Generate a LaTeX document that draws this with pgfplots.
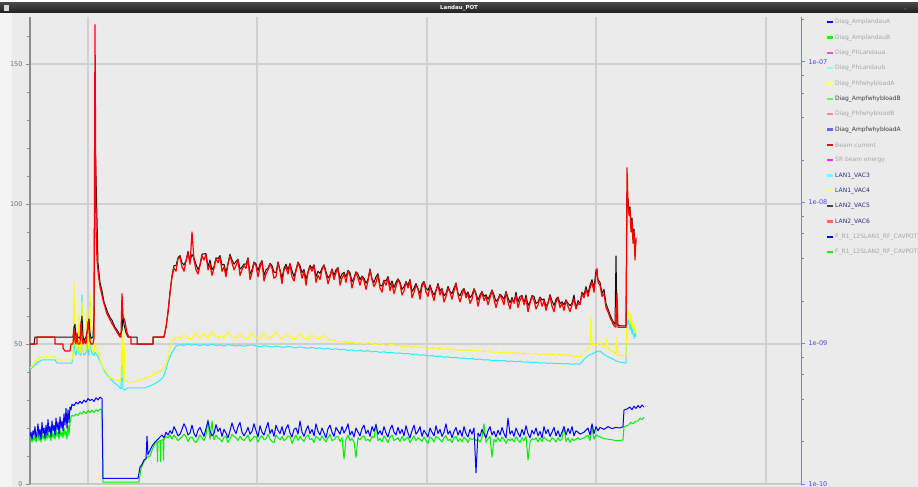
\documentclass[border=0pt]{standalone}
\usepackage{pgfplots}
\pgfplotsset{compat=1.18}
\usepackage{pgfplotstable}
\usepackage{fontspec}
\setmainfont{DejaVu Sans}
\definecolor{bg}{HTML}{EBEBEB}
\definecolor{strip}{HTML}{F4F4F4}
\definecolor{gridc}{HTML}{D0D0D0}
\definecolor{laxis}{HTML}{8C8C8C}
\definecolor{baxis}{HTML}{C6C6C6}
\definecolor{ticklab}{HTML}{6E6E6E}
\definecolor{raxis}{HTML}{7878FF}
\definecolor{rlab}{HTML}{4646F0}
\definecolor{cred}{HTML}{FF0000}
\definecolor{cblk}{HTML}{111111}
\definecolor{cyel}{HTML}{FFFF00}
\definecolor{ccya}{HTML}{22F0FF}
\definecolor{cblu}{HTML}{0000FF}
\definecolor{cgrn}{HTML}{00F000}
\definecolor{lgray}{HTML}{A6A6A6}
\definecolor{ldark}{HTML}{3A3A3A}
\definecolor{lnavy}{HTML}{2C2C7C}
\definecolor{m1}{HTML}{0000FF}
\definecolor{m2}{HTML}{22EE22}
\definecolor{m3}{HTML}{FF44FF}
\definecolor{m4}{HTML}{88FFFF}
\definecolor{m5}{HTML}{FFFF77}
\definecolor{m6}{HTML}{55FF55}
\definecolor{m7}{HTML}{FF8888}
\definecolor{m8}{HTML}{6666FF}
\definecolor{m9}{HTML}{FF0000}
\definecolor{m10}{HTML}{FF22FF}
\definecolor{m11}{HTML}{66FFFF}
\definecolor{m12}{HTML}{FFFF55}
\definecolor{m13}{HTML}{444444}
\definecolor{m14}{HTML}{FF6666}
\definecolor{m15}{HTML}{0000FF}
\definecolor{m16}{HTML}{00FF00}
% noisy middle part: LAN2_VAC6 (red), LAN2_VAC5 (black), blue, green
\pgfplotstableread{
x red blk blu grn
172 74.0 74.5 18.0 16.0
174 77.0 78.0 20.5 17.5
176 76.0 78.0 19.0 16.5
178 80.5 80.8 17.2 15.5
180 81.0 81.6 17.8 16.2
182 77.5 79.0 19.5 16.8
184 76.0 78.2 21.5 17.8
186 79.5 79.8 20.0 17.0
188 82.5 83.1 17.5 15.2
190 78.5 79.5 18.2 16.5
192 90.0 82.0 21.0 16.8
194 80.0 80.6 18.0 15.5
196 76.5 78.5 16.8 14.8
198 75.0 76.5 19.2 16.0
200 78.0 78.3 20.2 17.5
202 81.5 82.1 18.5 16.5
204 80.0 82.2 17.0 15.5
206 82.0 82.3 19.8 17.2
208 76.5 77.5 22.5 23.0
210 78.5 80.0 19.0 16.0
212 74.5 76.5 17.2 22.5
214 77.0 77.6 18.0 15.8
216 80.5 80.8 21.2 17.5
218 79.0 80.5 18.8 16.5
220 81.0 81.6 20.0 16.0
222 76.0 78.2 17.0 15.0
224 77.5 78.5 19.5 16.8
226 74.0 75.5 18.2 17.0
228 78.5 78.8 16.5 14.8
230 81.5 82.1 19.0 16.2
232 79.0 80.0 21.8 17.8
234 76.5 78.5 19.5 17.0
236 78.0 79.5 18.0 16.5
238 80.0 80.3 20.5 15.5
240 74.5 76.7 22.0 17.0
242 76.5 77.5 18.5 16.0
244 78.0 78.6 17.2 15.5
246 77.0 78.5 18.5 16.5
248 80.5 80.8 20.2 17.5
250 73.0 75.0 17.8 15.2
252 75.5 76.5 18.8 16.0
254 79.0 79.3 21.5 17.0
256 78.0 78.6 19.0 16.8
258 74.0 76.2 16.8 15.0
260 77.5 78.5 20.8 16.5
262 79.5 79.8 18.5 17.2
264 72.5 74.5 17.5 15.8
266 75.0 76.5 19.8 16.2
268 76.5 77.1 22.0 17.8
270 78.5 78.8 18.0 16.0
272 77.0 78.0 19.5 15.2
274 73.5 75.7 17.0 14.8
276 74.0 75.5 21.0 17.5
278 79.0 79.3 19.2 16.5
280 76.0 76.6 18.0 15.8
282 71.5 73.5 20.5 17.0
284 76.5 77.1 17.5 15.5
286 77.5 78.5 19.8 16.0
288 75.0 76.5 21.2 17.2
290 78.5 78.8 18.2 16.8
292 74.0 76.2 16.8 14.5
294 72.5 74.0 19.5 16.2
296 76.0 76.6 20.0 17.5
298 79.0 79.3 17.8 15.5
300 77.0 78.0 22.5 17.0
302 73.5 75.5 18.5 16.0
304 76.0 76.6 17.0 15.2
306 71.0 73.2 19.2 16.8
308 75.5 75.8 20.8 17.5
310 77.5 78.1 18.0 15.8
312 76.0 77.0 19.5 16.2
314 78.0 78.3 17.2 14.8
316 72.0 74.0 21.5 17.0
318 74.5 76.0 18.8 16.5
320 73.0 75.2 17.5 15.5
322 76.5 77.1 20.0 17.2
324 78.0 78.3 18.2 16.0
326 75.0 76.0 16.5 15.0
328 71.5 73.5 19.8 16.5
330 74.0 74.6 21.0 17.8
332 76.5 76.8 18.5 15.5
334 73.0 74.5 17.0 15.8
336 75.5 76.5 20.2 16.8
338 77.0 77.3 19.0 17.0
340 71.0 73.2 17.8 15.2
342 73.5 75.0 20.5 16.5
344 75.0 75.6 18.2 9.0
346 72.0 74.0 19.5 16.0
348 76.0 76.3 21.5 17.5
350 74.5 75.5 17.5 15.5
352 70.0 72.2 18.8 16.2
354 73.0 73.6 16.8 15.0
356 75.5 75.8 20.0 9.5
358 73.5 75.0 18.5 16.5
360 71.0 73.0 17.2 15.8
362 74.0 74.3 19.8 16.8
364 72.5 73.5 21.0 17.2
366 69.5 71.7 18.0 15.5
368 72.5 73.1 19.2 16.0
370 76.5 76.8 17.0 15.2
372 73.0 73.3 20.5 17.0
374 70.5 72.0 18.8 16.5
376 72.0 74.0 21.2 21.5
378 74.5 75.1 17.8 15.5
380 70.0 71.0 19.0 16.2
382 68.5 70.7 17.5 15.0
384 72.5 72.8 20.5 17.2
386 71.0 72.5 18.2 16.0
388 73.5 74.1 16.8 14.8
390 69.0 71.0 19.5 16.8
392 71.5 72.5 21.0 17.5
394 68.0 70.2 18.5 15.5
396 70.5 72.0 17.5 16.0
398 73.0 73.3 20.2 16.5
400 71.5 72.1 18.0 15.2
402 67.5 69.5 19.5 17.0
404 69.0 70.5 17.2 15.5
406 72.0 72.3 20.8 16.2
408 70.0 71.0 18.2 16.8
410 72.5 73.1 16.5 14.8
412 66.5 68.7 19.0 16.0
414 68.5 70.0 21.0 17.2
416 71.0 71.6 17.8 15.5
418 69.5 69.8 18.8 16.5
420 66.0 68.0 20.5 16.0
422 70.5 71.5 17.0 15.2
424 72.0 72.3 19.2 16.8
426 68.5 70.0 18.0 15.5
428 67.0 69.2 16.8 14.5
430 70.5 71.1 20.0 16.8
432 68.0 69.0 18.5 16.2
434 65.5 67.5 17.2 15.0
436 69.0 69.3 20.8 17.0
438 71.0 71.6 18.0 16.5
440 67.5 69.0 19.5 15.8
442 69.5 69.8 17.0 15.0
444 65.0 67.2 18.5 16.5
446 67.0 68.0 21.5 17.2
448 70.0 70.6 17.8 15.5
450 68.5 68.8 19.0 16.0
452 66.0 68.0 16.5 14.8
454 69.0 70.0 18.8 16.5
456 71.5 71.8 20.2 17.0
458 67.5 68.1 17.5 15.2
460 65.0 67.2 19.2 16.2
462 67.5 69.0 17.0 15.0
464 69.5 69.8 20.5 16.8
466 66.5 67.5 18.0 16.0
468 68.0 68.6 16.8 14.8
470 64.5 66.5 19.5 16.5
472 66.0 67.5 17.8 15.8
474 69.5 69.8 20.0 16.2
476 67.5 68.1 4.0 15.5
478 63.5 65.7 18.2 16.0
480 66.5 67.5 17.0 15.0
482 68.5 68.8 19.5 16.5
484 65.5 67.0 18.0 21.5
486 67.0 67.6 16.5 14.8
488 64.0 66.0 19.0 16.2
490 66.5 67.5 20.5 17.0
492 69.0 69.3 17.5 9.6
494 66.0 67.5 18.8 16.0
496 63.0 65.2 16.8 15.0
498 65.5 66.1 19.2 16.5
500 67.5 67.8 17.5 15.2
502 66.0 67.0 20.2 16.8
504 64.0 66.0 18.0 16.0
506 68.5 68.8 16.5 14.5
508 65.0 66.5 23.5 16.0
510 62.5 64.7 17.8 15.5
512 66.0 66.6 19.0 16.2
514 64.5 64.8 17.0 15.0
516 67.5 68.5 20.0 16.8
518 63.0 65.0 18.2 15.8
520 65.5 67.0 16.8 14.8
522 67.0 67.3 19.5 16.5
524 64.0 64.6 17.5 15.5
526 66.5 67.5 20.8 17.0
528 61.5 63.7 18.0 8.6
530 64.5 65.1 16.5 15.0
532 67.0 67.3 19.2 16.2
534 65.5 67.0 17.8 15.8
536 62.5 64.5 20.0 16.5
538 64.0 65.0 17.2 15.0
540 66.5 66.8 18.8 16.5
542 63.5 65.7 16.5 15.2
544 65.5 66.1 20.5 16.8
546 62.0 63.5 18.0 16.0
548 64.5 64.8 19.5 15.5
550 67.0 67.6 17.0 15.2
552 63.5 65.5 18.5 16.5
554 61.5 63.7 20.2 16.0
556 65.0 66.0 17.2 15.0
558 66.5 66.8 19.0 16.5
560 63.0 64.5 16.8 15.5
562 64.5 65.1 18.5 16.0
564 62.0 64.0 20.5 20.5
566 65.5 65.8 17.5 15.2
568 63.5 64.5 19.8 16.5
570 61.5 63.7 18.0 14.8
572 64.0 64.6 20.5 16.2
574 66.0 67.5 17.2 15.5
576 62.5 62.8 19.0 16.0
578 64.5 65.5 18.5 16.5
580 64.0 64.5 17.8 15.8
}\midA
% middle part: LAN1_VAC4 (yellow), LAN1_VAC3 (cyan)
\pgfplotstableread{
x yel cya
172 51.0 47.0
176 52.5 49.2
180 52.0 49.8
184 53.5 49.5
188 52.0 50.0
192 51.8 49.6
196 54.0 49.9
200 52.2 49.4
204 53.8 49.8
208 52.0 49.5
212 54.5 50.0
216 52.3 49.4
220 53.0 49.7
224 52.0 49.2
228 54.2 49.8
232 52.5 49.5
236 52.0 49.3
240 53.6 49.6
244 52.2 49.2
248 52.0 49.5
252 54.0 49.7
256 52.3 49.3
260 52.0 49.0
264 53.8 49.4
268 52.0 49.2
272 52.5 48.9
276 54.2 49.3
280 52.0 49.0
284 52.4 48.8
288 53.5 49.2
292 52.0 48.9
296 52.0 48.6
300 53.8 49.0
304 52.2 48.7
308 51.8 48.5
312 53.5 48.8
316 52.0 48.4
320 52.0 48.6
324 53.2 48.2
328 51.6 48.5
332 51.5 48.0
336 51.0 48.3
340 50.6 47.9
344 51.0 48.1
348 50.4 47.7
352 50.8 47.9
356 50.2 47.5
360 50.5 47.7
364 50.0 47.4
368 50.6 47.6
372 50.0 47.2
376 49.8 47.4
380 50.3 47.0
384 49.6 47.2
388 49.5 46.9
392 50.1 47.0
396 49.3 46.7
400 49.6 46.8
404 49.0 46.5
408 49.4 46.6
412 48.8 46.3
416 49.2 46.4
420 48.6 46.0
424 48.9 46.1
428 48.3 45.7
432 48.7 45.9
436 48.2 45.5
440 48.5 45.7
444 48.0 45.3
448 48.4 45.4
452 47.8 45.1
456 48.2 45.2
460 47.6 44.9
464 48.0 45.0
468 47.5 44.7
472 47.9 44.8
476 47.4 44.5
480 47.7 44.6
484 47.2 44.3
488 47.6 44.4
492 47.0 44.1
496 47.3 44.2
500 46.8 44.0
504 47.2 44.1
508 46.7 43.8
512 47.0 43.9
516 46.6 43.7
520 46.9 43.8
524 46.5 43.5
528 46.8 43.6
532 46.4 43.4
536 46.7 43.5
540 46.2 43.2
544 46.6 43.3
548 46.1 43.1
552 46.4 43.2
556 46.0 43.0
560 46.3 43.1
564 45.9 42.9
568 46.2 43.0
572 45.8 42.8
576 45.6 42.9
580 45.5 42.8
}\midB
\pgfplotsset{ser/.style={line width=1pt, line join=round, mark=none}}
\begin{document}
\begin{tikzpicture}
\useasboundingbox (0,0) rectangle (918pt,487pt);
\clip (0,0) rectangle (918pt,487pt);
\fill[bg] (0,0) rectangle (918pt,487pt);
\fill[strip] (0,0) rectangle (12pt,474pt);
\fill[white] (0,484pt) rectangle (918pt,487pt);
\shade[top color=black!72, bottom color=black!88] (0,474pt) rectangle (918pt,484pt);
\fill[white!85!black] (4pt,476pt) rectangle (9pt,482pt);
\node[text=white, font=\bfseries\fontsize{5.5}{6}\selectfont, inner sep=0] at (459pt,479pt) {Landau\_POT};
\node[text=white!70!black, font=\fontsize{5}{6}\selectfont, inner sep=0, anchor=west] at (904pt,478pt) {\_};
\begin{axis}[
  at={(30pt,3pt)}, anchor=south west, scale only axis,
  width=771pt, height=467pt,
  xmin=30, xmax=801, ymin=0, ymax=166.8,
  axis x line*=bottom, axis y line*=left,
  x axis line style={-, draw=baxis, line width=1pt},
  y axis line style={-, draw=laxis, line width=1.6pt},
  xtick={88,257,427,596,766}, xticklabels={},
  xtick style={draw=none},
  ytick={0,50,100,150}, yticklabels={0,50,100,150},
  minor ytick={10,20,30,40,60,70,80,90,110,120,130,140,160},
  tick align=outside,
  major tick length=4pt, minor tick length=3pt,
  ytick style={draw=laxis, line width=0.8pt},
  minor y tick style={draw=laxis, line width=0.8pt},
  yticklabel style={text=ticklab, font=\fontsize{6.5}{7}\selectfont},
  xmajorgrids, ymajorgrids,
  major grid style={draw=gridc, line width=1.1pt},
]
% green
\addplot[ser, draw=cgrn] coordinates {(30,15.5) (31,16.5) (32,15) (33,17) (34,15.5) (35,17.5) (36,15) (37,16.5) (38,18) (39,15.5) (40,17) (41,15) (42,18.5) (43,16) (44,17.5) (45,15.5) (46,18) (47,16) (48,19) (49,16.5) (50,17.5) (51,15.5) (52,19) (53,16.5) (54,18) (55,16) (56,19.5) (57,17) (58,18.5) (59,16) (60,19.5) (61,17) (62,18.5) (63,16.5) (64,20) (65,17.5) (66,19) (67,16) (68,21) (69,17.5) (70,22) (71,24) (72,24.5) (74,24.2) (76,25) (78,24.5) (80,25.5) (82,25) (84,26) (86,25.2) (88,26.2) (90,25.5) (92,26.3) (94,25.6) (96,26.5) (98,26) (100,26.8) (102,26.4) (103,0.7) (139,0.7) (141,5.5) (144,8) (147,9.5) (150,10) (152,12) (155,14.5) (157,15) (157.5,8) (158,15) (160,15.5) (160.5,8) (161,15.5) (163,16) (163.5,8.5) (164,16) (166,17) (168,16.5) (170,17.5) (172,16)};
\addplot[ser, draw=cgrn] table[x=x, y=grn] {\midA};
\addplot[ser, draw=cgrn] coordinates {(580,15.8) (584,16.5) (588,17.5) (590,15.5) (592,20) (594,16) (596,17.5) (600,16.8) (604,16.2) (608,16) (612,15.8) (616,15.5) (620,15.6) (623,15.7) (624,20.4) (628,21) (631,22) (633,21.5) (636,22.5) (638,22.5) (640,23.5) (642,23) (644,23.8)};
% blue
\addplot[ser, draw=cblu] coordinates {(30,17) (31,18.5) (32,16) (33,19) (34,17.5) (35,20.5) (36,16.5) (37,18) (38,21.5) (39,17) (40,19.5) (41,16) (42,22) (43,18) (44,20) (45,16.5) (46,21) (47,17.5) (48,23) (49,18.5) (50,20.5) (51,17) (52,22.5) (53,19) (54,21) (55,17.5) (56,23.5) (57,19.5) (58,22) (59,18) (60,24) (61,20) (62,22.5) (63,19) (64,25) (65,21) (66,27) (67,20) (68,26.5) (69,22) (70,27.5) (71,26.5) (72,28.5) (74,28) (76,29.2) (78,28.6) (80,29.5) (82,28.8) (84,30) (86,29.2) (88,30.5) (90,29.8) (92,30.3) (94,29.5) (96,30.8) (98,30) (100,31) (102,30.5) (103,2) (138,2) (140,6) (142,7) (144,8.6) (146,9) (147,17) (148,10.5) (150,12) (152,13.5) (155,15) (158,16) (160,16.8) (162,17.5) (164,16.5) (166,18.5) (168,17.5) (170,19) (172,18)};
\addplot[ser, draw=cblu] table[x=x, y=blu] {\midA};
\addplot[ser, draw=cblu] coordinates {(580,17.8) (584,18.5) (588,20) (590,17.5) (592,21.5) (594,18) (596,20.5) (598,19) (600,20.2) (604,19.5) (608,20.5) (612,19.8) (616,20.2) (620,20) (623,20.5) (624,26.4) (627,26.8) (630,27.5) (632,26.5) (634,27.8) (636,27) (638,28) (640,27.2) (642,28.2) (644,27.5)};
% cyan
\addplot[ser, draw=ccya] coordinates {(30,40.7) (33,41.8) (38,43.5) (42,44.3) (55,44.3) (57,43.2) (72,43.2) (73,46) (74,52) (75,47) (76,46) (78,50) (79,46.5) (81,46) (82,67.5) (83,48) (84,46) (86,46.8) (87,55) (88,47) (89,46) (90,65) (91,48) (92,46.5) (94,46) (95,47) (97,46) (100,44) (104,40.5) (107,39) (112,37) (117,35.4) (121,34) (122,46) (123,34) (125,33.6) (128,34.3) (135,34.3) (145,34.3) (153,35.5) (158,36.5) (163,38) (166,41) (168,43.5) (170,45.4) (172,47)};
\addplot[ser, draw=ccya] table[x=x, y=cya] {\midB};
\addplot[ser, draw=ccya] coordinates {(580,42.8) (584,44.5) (588,45.8) (592,46.5) (596,47.2) (600,47.5) (604,46.2) (608,45.5) (612,44.8) (616,44) (620,43.5) (626,43.2) (627,59) (628,57) (629,58.5) (630,55) (631,57) (632,53.5) (633,55.5) (634,52) (635,54) (636,52.5)};
% yellow
\addplot[ser, draw=cyel] coordinates {(30,41.4) (33,42.5) (38,45) (42,45.4) (55,45.4) (57,44.3) (72,44.3) (73,47) (74,72) (75,50) (76,48) (77,52) (78,47) (79,60) (80,48) (81,47) (82,65) (83,49) (84,47) (86,48) (87,62) (88,50) (89,48) (90,68) (91,50) (92,48) (94,47) (95,50) (96,49) (97,49) (99,46) (102,42) (106,40) (110,38) (115,37.3) (120,36.8) (121,38) (122,56) (123,38) (124,50) (125,37) (128,36.5) (132,36.5) (140,37) (147,38) (153,39) (158,40) (163,40.8) (166,43) (168,45) (170,48.5) (172,51)};
\addplot[ser, draw=cyel] table[x=x, y=yel] {\midB};
\addplot[ser, draw=cyel] coordinates {(580,45.5) (584,47) (588,48.5) (590,49) (591,60) (592,50) (596,49.6) (600,50.5) (604,48.8) (606,49) (607,52) (608,48.5) (612,47.5) (616,46.5) (617,52.5) (618,46) (626,45.7) (627,63) (628,60) (629,62) (630,57) (631,61) (632,56) (633,58) (634,54) (635,57) (636,54)};
% black
\addplot[ser, draw=cblk] coordinates {(30,50) (34,50) (35,52.5) (73,52.5) (74,56) (75,57) (76,52) (78,52.5) (80,52) (81,56) (82,60) (83,53) (84,51) (86,52.5) (88,56) (89,59) (90,54) (91,52) (93,52.5) (94,60) (95,123) (96,110) (97,95) (98,79) (100,72) (102,69) (104,65) (106,63) (108,61) (110,59.5) (112,58.5) (115,56) (118,54.5) (120,53) (122,55) (123,60) (124,57) (126,54) (128,52.5) (137,52.5) (137,50) (153,50) (153,52.5) (164,52.5) (166,56) (168,61.5) (170,68.5) (172,74.5)};
\addplot[ser, draw=cblk] table[x=x, y=blk] {\midA};
\addplot[ser, draw=cblk] coordinates {(580,64.5) (582,68.5) (584,67.5) (586,70.5) (588,68) (590,71) (592,73) (594,70) (596,76.5) (598,73) (600,72) (602,68) (604,69.5) (606,64.5) (608,62.5) (610,60.5) (612,58.8) (614,57.5) (615,57) (616,81.5) (617,57) (620,56.5) (626,56.5) (627,100) (628,102) (629,97) (630,99) (631,92) (632,95) (633,88) (634,91) (635,84) (636,87)};
% red
\addplot[ser, line width=1.2pt, draw=cred] coordinates {(30,50) (37,50) (37,52.5) (55,52.5) (55,50) (63,50) (63,48.5) (65,47.5) (70,47.5) (71,50) (73,50) (74,55) (75,51) (76,50) (77,54) (78,50) (80,50) (81,58) (82,52) (83,50) (85,51) (86,50) (88,58) (89,55) (90,51) (91,50) (93,50) (94,52) (95,164) (96,92) (97,80) (98.3,75) (100,70.5) (103,65.7) (106.7,61) (111.7,57.5) (116.7,54.4) (120,52.5) (121,52.5) (122,68) (123,60) (125,58) (127,54) (129,52.5) (131,52.5) (131,50) (153,50) (153,52.5) (164,52.5) (166,56) (168,61) (170,68) (172,74)};
\addplot[ser, line width=1.2pt, draw=cred] table[x=x, y=red] {\midA};
\addplot[ser, line width=1.2pt, draw=cred] coordinates {(580,64) (582,68) (584,66.5) (586,69.5) (588,67) (590,70) (592,72) (594,68.5) (596,75) (597,77) (598,72) (600,71) (602,67) (604,68) (606,63) (608,61.5) (610,59.5) (612,58) (614,56.5) (616,56) (617,68) (618,56) (626,56) (627,113) (628,100) (629,96) (630,98) (631,90) (632,94) (633,86) (634,90) (635,80) (636,88)};
\end{axis}
\begin{axis}[
  at={(30pt,3pt)}, anchor=south west, scale only axis,
  width=771pt, height=467pt,
  xmin=30, xmax=801, ymode=log, ymin=1e-10, ymax=2.08e-7,
  axis x line=none, axis y line*=right,
  y axis line style={-, draw=raxis, line width=1pt},
  ytick={1e-10,1e-9,1e-8,1e-7}, yticklabels={1e-10,1e-09,1e-08,1e-07},
  minor ytick={2e-10,4e-10,6e-10,8e-10,2e-9,4e-9,6e-9,8e-9,2e-8,4e-8,6e-8,8e-8,2e-7},
  tick align=outside,
  major tick length=4pt, minor tick length=2.5pt,
  ytick style={draw=raxis, line width=0.8pt},
  minor y tick style={draw=raxis, line width=0.8pt},
  yticklabel style={text=rlab, font=\fontsize{6.5}{7}\selectfont},
]
\addplot[draw=none] coordinates {(30,1e-9)};
\end{axis}
\foreach \c/\t/\tc [count=\i] in {m1/Diag\_AmplandauA/lgray, m2/Diag\_AmplandauB/lgray, m3/Diag\_PhLandaua/lgray, m4/Diag\_PhLandaub/lgray, m5/Diag\_PhfwhybloadA/lgray, m6/Diag\_AmpfwhybloadB/ldark, m7/Diag\_PhfwhybloadB/lgray, m8/Diag\_AmpfwhybloadA/ldark, m9/Beam current/lgray, m10/SR beam energy/lgray, m11/LAN1\_VAC3/lnavy, m12/LAN1\_VAC4/lnavy, m13/LAN2\_VAC5/lnavy, m14/LAN2\_VAC6/lnavy, m15/F\_R1\_12SLAN1\_RF\_CAVPOT/lgray, m16/F\_R1\_12SLAN2\_RF\_CAVPOT/lgray} {
  \pgfmathsetmacro\yy{487-22.3-15.33*(\i-1)}
  \fill[\c] (827pt,\yy pt-1.2pt) rectangle (833pt,\yy pt+1.2pt);
  \node[anchor=west, inner sep=0, text=\tc, font=\fontsize{6}{7}\selectfont] at (835pt,\yy pt) {\t};
}
\end{tikzpicture}
\end{document}
